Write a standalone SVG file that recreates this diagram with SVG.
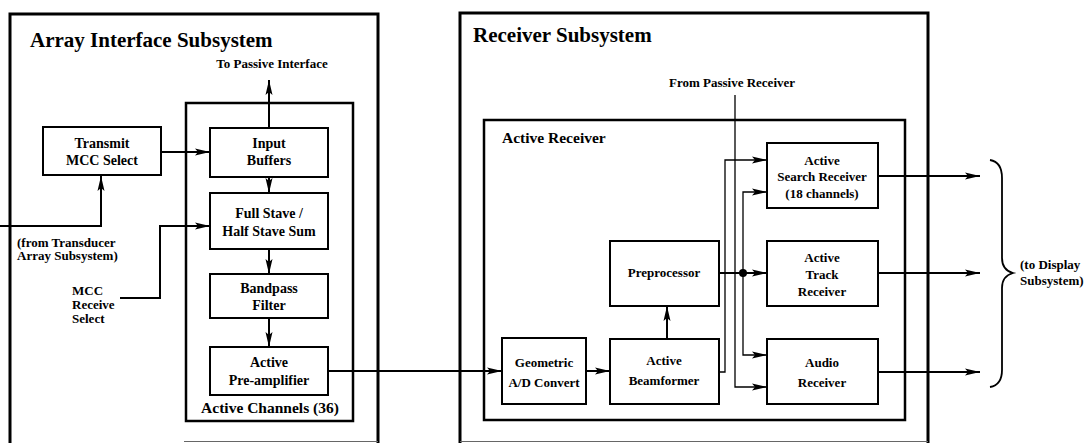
<svg xmlns="http://www.w3.org/2000/svg" width="1087" height="443" viewBox="0 0 1087 443">
<style>
  text { font-family: "Liberation Serif", "Times New Roman", serif; font-weight: bold; fill: #000; }
  .title { font-size: 21px; }
  .lbl { font-size: 13px; }
  .box text { font-size: 13px; text-anchor: middle; }
  .box.big text { font-size: 14px; }
  .group { font-size: 15.5px; }
  .outer { fill: none; stroke: #000; stroke-width: 3; }
  .outer-bottom { fill: none; stroke: #666; stroke-width: 1; }
  .mid { fill: none; stroke: #000; stroke-width: 2.5; }
  .box rect { fill: #fff; stroke: #000; stroke-width: 2; }
  .conn path { fill: none; stroke: #000; stroke-width: 2; }
  .conn path.thin { stroke-width: 1.3; }
  .brace { fill: none; stroke: #000; stroke-width: 1.8; }
</style>
<defs>
  <marker id="arr" markerUnits="userSpaceOnUse" markerWidth="16" markerHeight="8" refX="15" refY="4" orient="auto">
    <path d="M0,0.5 L15,4 L0,7.5 L3,4 z" fill="#000"/>
  </marker>
</defs>
<rect width="1087" height="443" fill="#fff"/>

<!-- Array Interface Subsystem -->
<g id="array-interface-subsystem">
  <path class="outer" d="M10,443 V14 H378 V443"/>
  <path class="outer-bottom" d="M184,441.5 H378"/>
  <text class="title" x="30" y="47">Array Interface Subsystem</text>
</g>
<g id="active-channels">
  <rect class="mid" x="186" y="103" width="167" height="318"/>
  <text class="group" x="270" y="413" text-anchor="middle">Active Channels (36)</text>
</g>
<g id="transmit-mcc-select" class="box big">
  <rect x="43" y="127" width="118" height="48"/>
  <text x="102" y="148">Transmit</text>
  <text x="102" y="165">MCC Select</text>
</g>
<g id="input-buffers" class="box big">
  <rect x="210" y="128" width="118" height="49"/>
  <text x="269" y="148">Input</text>
  <text x="269" y="165">Buffers</text>
</g>
<g id="full-stave" class="box big">
  <rect x="210" y="193" width="118" height="56"/>
  <text x="269" y="218">Full Stave /</text>
  <text x="269" y="236">Half Stave Sum</text>
</g>
<g id="bandpass-filter" class="box big">
  <rect x="210" y="274" width="118" height="44"/>
  <text x="269" y="293">Bandpass</text>
  <text x="269" y="310">Filter</text>
</g>
<g id="active-preamplifier" class="box big">
  <rect x="210" y="347" width="118" height="48"/>
  <text x="269" y="367">Active</text>
  <text x="269" y="385">Pre-amplifier</text>
</g>
<g id="labels-left">
  <text class="lbl" x="272" y="68" text-anchor="middle">To Passive Interface</text>
  <text class="lbl" x="17" y="247">(from Transducer</text>
  <text class="lbl" x="17" y="260">Array Subsystem)</text>
  <text class="lbl" x="72" y="295">MCC</text>
  <text class="lbl" x="72" y="309">Receive</text>
  <text class="lbl" x="72" y="323">Select</text>
</g>

<!-- Receiver Subsystem -->
<g id="receiver-subsystem">
  <path class="outer" d="M460,443 V13 H928 V443"/>
  <path class="outer-bottom" d="M460,441.5 H928"/>
  <text class="title" x="473" y="42">Receiver Subsystem</text>
</g>
<g id="active-receiver">
  <rect class="mid" x="484" y="120" width="421" height="300"/>
  <text class="group" x="502" y="143" font-size="15px">Active Receiver</text>
</g>
<g id="geometric-ad-convert" class="box">
  <rect x="502" y="338" width="84" height="66"/>
  <text x="544" y="367">Geometric</text>
  <text x="544" y="387">A/D Convert</text>
</g>
<g id="active-beamformer" class="box">
  <rect x="610" y="339" width="109" height="65"/>
  <text x="664" y="365">Active</text>
  <text x="664" y="385">Beamformer</text>
</g>
<g id="preprocessor" class="box">
  <rect x="610" y="241" width="109" height="65"/>
  <text x="664" y="277">Preprocessor</text>
</g>
<g id="active-search-receiver" class="box">
  <rect x="767" y="143" width="111" height="65"/>
  <text x="822" y="165">Active</text>
  <text x="822" y="181">Search Receiver</text>
  <text x="822" y="198">(18 channels)</text>
</g>
<g id="active-track-receiver" class="box">
  <rect x="767" y="241" width="111" height="65"/>
  <text x="822" y="262">Active</text>
  <text x="822" y="279">Track</text>
  <text x="822" y="296">Receiver</text>
</g>
<g id="audio-receiver" class="box">
  <rect x="767" y="339" width="111" height="65"/>
  <text x="822" y="367">Audio</text>
  <text x="822" y="387">Receiver</text>
</g>
<g id="labels-right">
  <text class="lbl" x="732" y="87" text-anchor="middle">From Passive Receiver</text>
  <text class="lbl" x="1020" y="269">(to Display</text>
  <text class="lbl" x="1020" y="285">Subsystem)</text>
  <path class="brace" d="M990,160 Q1002,162 1002,178 V258 Q1002,270 1013,273 Q1002,276 1002,288 V370 Q1002,385 990,387"/>
</g>

<!-- Connectors -->
<g id="connectors" class="conn">
  <path d="M0,226 H101 V176" marker-end="url(#arr)"/>
  <path d="M161,152 H210" marker-end="url(#arr)"/>
  <path d="M269,128 V80" marker-end="url(#arr)"/>
  <path d="M269,177 V193" marker-end="url(#arr)"/>
  <path d="M120,298 H160 V226 H210" marker-end="url(#arr)"/>
  <path d="M269,249 V274" marker-end="url(#arr)"/>
  <path d="M269,318 V347" marker-end="url(#arr)"/>
  <path d="M328,371 H502" marker-end="url(#arr)"/>
  <path d="M586,371 H610" marker-end="url(#arr)"/>
  <path d="M667,339 V306" marker-end="url(#arr)"/>
  <path d="M719,273 H767" marker-end="url(#arr)"/>
  <path class="thin" d="M743,273 V192 H767" marker-end="url(#arr)"/>
  <path class="thin" d="M743,273 V355 H767" marker-end="url(#arr)"/>
  <path class="thin" d="M719,372 H725 V160 H767" marker-end="url(#arr)"/>
  <path class="thin" d="M735,95 V387 H767" marker-end="url(#arr)"/>
  <path d="M878,176 H980" marker-end="url(#arr)"/>
  <path d="M878,273 H980" marker-end="url(#arr)"/>
  <path d="M878,372 H980" marker-end="url(#arr)"/>
  <circle cx="743" cy="273" r="4" fill="#000"/>
</g>
</svg>
